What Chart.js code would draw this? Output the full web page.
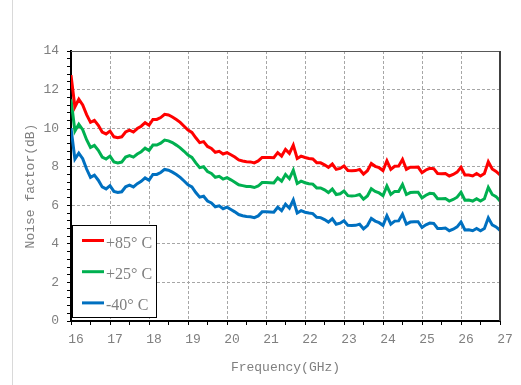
<!DOCTYPE html>
<html>
<head>
<meta charset="utf-8">
<script src="https://cdn.jsdelivr.net/npm/chart.js@4.4.1/dist/chart.umd.min.js"></script>
<style>
html,body{margin:0;padding:0;background:#fff;}
canvas{display:block;}
</style>
</head>
<body>
<canvas id="nf__graph" width="521" height="385"></canvas>
<script>
// Noise factor vs frequency

const freq = [16.0,16.1,16.2,16.3,16.4,16.5,16.6,16.7,16.8,16.9,
  17.0,17.1,17.2,17.3,17.4,17.5,17.6,17.7,17.8,17.9,
  18.0,18.1,18.2,18.3,18.4,18.5,18.6,18.7,18.8,18.9,
  19.0,19.1,19.2,19.3,19.4,19.5,19.6,19.7,19.8,19.9,
  20.0,20.1,20.2,20.3,20.4,20.5,20.6,20.7,20.8,20.9,
  21.0,21.1,21.2,21.3,21.4,21.5,21.6,21.7,21.8,21.9,
  22.0,22.1,22.2,22.3,22.4,22.5,22.6,22.7,22.8,22.9,
  23.0,23.1,23.2,23.3,23.4,23.5,23.6,23.7,23.8,23.9,
  24.0,24.1,24.2,24.3,24.4,24.5,24.6,24.7,24.8,24.9,
  25.0,25.1,25.2,25.3,25.4,25.5,25.6,25.7,25.8,25.9,
  26.0,26.1,26.2,26.3,26.4,26.5,26.6,26.7,26.8,26.9,
  27.0];

const nf85 = [12.75,11.1,11.5,11.2,10.7,10.3,10.4,10.15,9.8,9.7,
  9.85,9.55,9.5,9.55,9.8,9.9,9.8,9.98,10.1,10.28,
  10.15,10.45,10.45,10.55,10.72,10.68,10.58,10.45,10.3,10.1,
  9.9,9.78,9.5,9.25,9.3,9.05,8.95,8.75,8.8,8.66,
  8.73,8.62,8.5,8.35,8.3,8.26,8.25,8.2,8.3,8.48,
  8.48,8.48,8.47,8.73,8.55,8.9,8.69,9.12,8.43,8.55,
  8.48,8.43,8.4,8.21,8.2,8.1,7.97,8.14,7.86,7.91,
  8.04,7.8,7.79,7.8,7.86,7.62,7.79,8.17,8.02,7.95,
  7.8,8.31,7.86,8.02,8.03,8.38,7.86,7.97,7.97,7.98,
  7.69,7.83,7.92,7.9,7.65,7.64,7.65,7.52,7.6,7.72,
  7.97,7.57,7.57,7.52,7.65,7.52,7.65,8.26,7.88,7.76,
  7.57];

const nf25 = [11.5,9.85,10.2,9.92,9.4,9.0,9.1,8.85,8.5,8.4,
  8.55,8.25,8.2,8.24,8.5,8.58,8.5,8.66,8.78,8.96,
  8.84,9.12,9.12,9.22,9.38,9.34,9.25,9.12,8.98,8.8,
  8.6,8.48,8.2,7.95,8.0,7.75,7.65,7.45,7.5,7.36,
  7.43,7.32,7.2,7.06,7.02,6.98,6.97,6.92,7.0,7.18,
  7.18,7.17,7.16,7.42,7.25,7.6,7.38,7.82,7.13,7.25,
  7.17,7.12,7.1,6.9,6.9,6.8,6.66,6.84,6.56,6.6,
  6.74,6.5,6.48,6.5,6.56,6.32,6.48,6.86,6.72,6.64,
  6.5,7.0,6.56,6.72,6.72,7.08,6.56,6.66,6.67,6.68,
  6.38,6.52,6.62,6.6,6.34,6.34,6.35,6.22,6.3,6.42,
  6.67,6.26,6.27,6.22,6.34,6.22,6.34,6.93,6.56,6.45,
  6.22];

const nfm40 = [10.0,8.4,8.7,8.42,7.88,7.45,7.56,7.3,6.95,6.85,
  7.02,6.72,6.66,6.7,6.96,7.04,6.95,7.12,7.24,7.42,
  7.3,7.6,7.6,7.7,7.86,7.82,7.72,7.6,7.45,7.26,
  7.06,6.95,6.66,6.42,6.47,6.22,6.12,5.92,5.97,5.82,
  5.9,5.78,5.66,5.52,5.46,5.42,5.4,5.36,5.45,5.66,
  5.66,5.65,5.64,5.9,5.72,6.06,5.85,6.28,5.6,5.72,
  5.64,5.6,5.57,5.38,5.36,5.26,5.13,5.3,5.02,5.07,
  5.2,4.96,4.95,4.96,5.02,4.78,4.95,5.32,5.18,5.1,
  4.96,5.46,5.02,5.18,5.19,5.54,5.02,5.13,5.14,5.15,
  4.85,4.99,5.08,5.06,4.8,4.8,4.82,4.68,4.76,4.88,
  5.13,4.72,4.73,4.68,4.8,4.68,4.8,5.35,4.98,4.88,
  4.7];

const seriesNames = ['+85° C', '+25° C', '-40° C'];
const seriesColors = ['#ff0000', '#00b050', '#0070c0'];

const textGray = '#7f7f7f';
const gridGray = '#a6a6a6';

function pts(vals) {
  return vals.map((v, i) => ({x: freq[i], y: v}));
}

// legend box inside the plot, lower left
const boxLegend = {
  id: 'boxLegend',
  afterDatasetsDraw(chart) {
    const ctx = chart.ctx;
    ctx.save();
    ctx.fillStyle = '#fff';
    ctx.fillRect(72, 225, 85, 93);
    ctx.strokeStyle = '#000';
    ctx.lineWidth = 1;
    ctx.strokeRect(72.5, 225.5, 84, 92);
    chart.data.datasets.forEach((ds, i) => {
      const y = 240.5 + i * 31.2;
      ctx.strokeStyle = ds.borderColor;
      ctx.lineWidth = 3;
      ctx.beginPath();
      ctx.moveTo(82, y);
      ctx.lineTo(104, y);
      ctx.stroke();
      ctx.fillStyle = textGray;
      ctx.font = '16px "Liberation Serif"';
      ctx.textBaseline = 'middle';
      ctx.fillText(ds.label, 106, y + 3);
    });
    ctx.restore();
  }
};

// top/right frame of the plot + faint outer line
const frame = {
  id: 'frame',
  beforeDraw(chart) {
    const ctx = chart.ctx;
    ctx.save();
    ctx.strokeStyle = '#d9d9d9';
    ctx.lineWidth = 1;
    ctx.beginPath();
    ctx.moveTo(12.5, 0);
    ctx.lineTo(12.5, 385);
    ctx.stroke();
    ctx.restore();
  },
  afterDraw(chart) {
    const a = chart.chartArea;
    const ctx = chart.ctx;
    ctx.save();
    ctx.strokeStyle = '#595959';
    ctx.lineWidth = 1;
    ctx.beginPath();
    ctx.moveTo(a.left, a.top + 0.5);
    ctx.lineTo(a.right, a.top + 0.5);
    ctx.stroke();
    ctx.strokeStyle = '#404040';
    ctx.lineWidth = 2;
    ctx.beginPath();
    ctx.moveTo(a.right, a.top);
    ctx.lineTo(a.right, a.bottom);
    ctx.stroke();
    ctx.restore();
  }
};

const isInt = v => Math.abs(v - Math.round(v)) < 1e-6;
const isEven = v => Math.abs(v / 2 - Math.round(v / 2)) < 1e-6;

const data1 = {
  datasets: [0, 1, 2].map(i => ({
    label: seriesNames[i],
    data: pts([nf85, nf25, nfm40][i]),
    borderColor: seriesColors[i],
    backgroundColor: seriesColors[i],
    borderWidth: 3,
    pointRadius: 0,
    tension: 0
  }))
};

const config1 = {
  type: 'line',
  data: data1,
  options: {
    responsive: false,
    animation: false,
    devicePixelRatio: 1,
    layout: {padding: {left: 0, right: 21, top: 51, bottom: 0}},
    plugins: {legend: {display: false}, tooltip: {enabled: false}},
    scales: {
      x: {
        type: 'linear',
        min: 16,
        max: 27,
        afterFit: s => { s.height = 64; },
        ticks: {
          stepSize: 0.5,
          autoSkip: false,
          maxRotation: 0,
          padding: 7,
          labelOffset: 5,
          color: textGray,
          font: {family: 'Liberation Mono', size: 13},
          callback: v => isInt(v) ? String(Math.round(v)) : ''
        },
        grid: {
          color: c => (c.tick && isInt(c.tick.value)) ? gridGray : 'rgba(0,0,0,0)',
          tickColor: '#000',
          tickLength: 4,
          lineWidth: 1
        },
        border: {color: '#000', width: 2, dash: [3, 2]},
        title: {
          display: true,
          text: 'Frequency(GHz)',
          color: textGray,
          font: {family: 'Liberation Mono', size: 13},
          padding: {top: 0, bottom: 10}
        }
      },
      y: {
        min: 0,
        max: 14,
        afterFit: s => { s.width = 71; },
        ticks: {
          stepSize: 0.4,
          autoSkip: false,
          padding: 8,
          color: textGray,
          font: {family: 'Liberation Mono', size: 13},
          callback: v => isEven(v) ? String(Math.round(v)) : ''
        },
        grid: {
          color: c => (c.tick && isEven(c.tick.value)) ? gridGray : 'rgba(0,0,0,0)',
          tickColor: '#000',
          tickLength: 4,
          lineWidth: 1
        },
        border: {color: '#000', width: 2, dash: [3, 2]},
        title: {
          display: true,
          text: 'Noise factor(dB)',
          color: textGray,
          font: {family: 'Liberation Mono', size: 13},
          padding: {top: 23, bottom: 0}
        }
      }
    }
  },
  plugins: [frame, boxLegend]
};

const myChar1 = new Chart(document.getElementById('nf__graph'), config1);
</script>
</body>
</html>
